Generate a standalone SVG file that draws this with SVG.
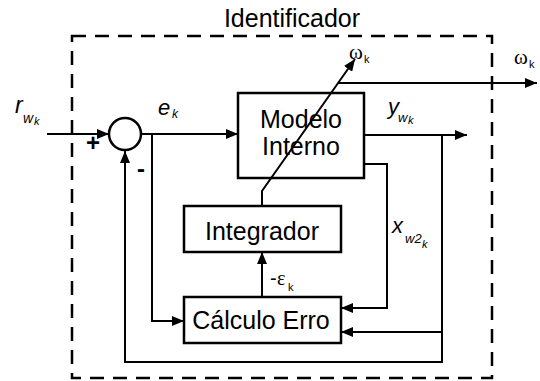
<svg xmlns="http://www.w3.org/2000/svg" width="540" height="381" viewBox="0 0 540 381">
<style>
.box{fill:#fff;stroke:#000;stroke-width:2.5}
.ln{fill:none;stroke:#000;stroke-width:2}
.t{font-family:"Liberation Sans",Arial,sans-serif;fill:#000}
.it{font-family:"Liberation Sans",Arial,sans-serif;font-style:italic;fill:#000}
.gr{font-family:"Liberation Serif","DejaVu Serif",serif;fill:#000}
</style>
<defs>
<marker id="ah" markerUnits="userSpaceOnUse" markerWidth="12" markerHeight="10" refX="12" refY="5" orient="auto">
<path d="M0,0 L12,5 L0,10 z" fill="#000"/>
</marker>
</defs>
<rect x="0" y="0" width="540" height="381" fill="#fff"/>
<g id="identificador">
<rect x="72" y="36" width="420" height="342" fill="none" stroke="#000" stroke-width="2.5" stroke-dasharray="14 9"/>
<text class="t" x="292" y="27" font-size="25" text-anchor="middle">Identificador</text>
</g>
<g id="soma">
<circle cx="125" cy="134" r="16" fill="#fff" stroke="#000" stroke-width="2.5"/>
<text class="t" x="93" y="151" font-size="24" font-weight="bold" text-anchor="middle">+</text>
<text class="t" x="141" y="177" font-size="24" font-weight="bold" text-anchor="middle">-</text>
</g>
<g id="modelo">
<rect class="box" x="238" y="93" width="126" height="85"/>
<text class="t" x="301" y="128" font-size="25" text-anchor="middle">Modelo</text>
<text class="t" x="301" y="155" font-size="25" text-anchor="middle">Interno</text>
</g>
<g id="integrador">
<rect class="box" x="184" y="206" width="157" height="46"/>
<text class="t" x="262" y="240" font-size="25" text-anchor="middle">Integrador</text>
</g>
<g id="calculo">
<rect class="box" x="184" y="297" width="157" height="46"/>
<text class="t" x="261" y="329" font-size="25" text-anchor="middle">Cálculo Erro</text>
</g>
<g id="connectors">
<path class="ln" d="M47,134 H109" marker-end="url(#ah)"/>
<path class="ln" d="M141,134 H238" marker-end="url(#ah)"/>
<path class="ln" d="M152,134 V321 H184" marker-end="url(#ah)"/>
<path class="ln" d="M364,135 H467" marker-end="url(#ah)"/>
<path class="ln" d="M442,135 V362 H125 V151" marker-end="url(#ah)"/>
<path class="ln" d="M442,332 H341" marker-end="url(#ah)"/>
<path class="ln" d="M364,164 H387 V308 H341" marker-end="url(#ah)"/>
<path class="ln" d="M262,297 V252" marker-end="url(#ah)"/>
<path class="ln" d="M262,206 V191 L355,59" marker-end="url(#ah)"/>
<path class="ln" d="M338,83 H537" marker-end="url(#ah)"/>
</g>
<g id="labels">
<text class="it" x="15" y="113" font-size="23">r</text>
<text class="it" x="23" y="123" font-size="14">w</text>
<text class="it" x="34" y="125" font-size="11">k</text>
<text class="it" x="158" y="115" font-size="22">e</text>
<text class="it" x="172" y="118" font-size="12">k</text>
<text class="it" x="388" y="114" font-size="22">y</text>
<text class="it" x="398" y="122" font-size="13">w</text>
<text class="it" x="408" y="124" font-size="11">k</text>
<text class="it" x="392" y="233" font-size="22">x</text>
<text class="it" x="405" y="243" font-size="13">w2</text>
<text class="it" x="422" y="248" font-size="11">k</text>
<text class="t" x="270" y="285" font-size="20">-</text>
<text class="gr" x="277" y="285" font-size="20">ε</text>
<text class="t" x="288" y="291" font-size="11">k</text>
<text class="gr" x="349" y="59" font-size="21">ω</text>
<text class="t" x="364" y="63" font-size="11">k</text>
<text class="gr" x="514" y="64" font-size="21">ω</text>
<text class="t" x="529" y="68" font-size="11">k</text>
</g>
</svg>
